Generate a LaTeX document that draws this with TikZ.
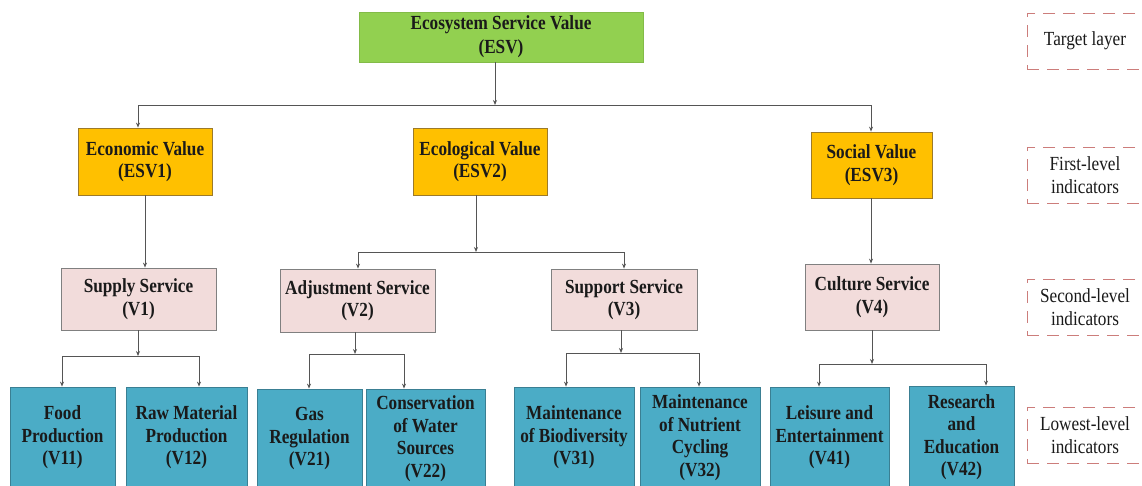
\documentclass[tikz,border=0pt]{standalone}
\usepackage{fontspec}
\setmainfont{Liberation Serif}[FakeStretch=0.86]
\usetikzlibrary{arrows.meta}
\definecolor{esvgreen}{HTML}{92D050}
\definecolor{orangef}{HTML}{FFC000}
\definecolor{orangeb}{HTML}{9C7A2A}
\definecolor{pinkf}{HTML}{F2DCDB}
\definecolor{pinkb}{HTML}{808080}
\definecolor{tealf}{HTML}{4BACC6}
\definecolor{tealb}{HTML}{3A7F93}
\definecolor{linegray}{HTML}{555555}
\definecolor{dashred}{HTML}{CC7D7B}
\definecolor{textdark}{HTML}{1A1A1A}
\tikzset{
  conn/.style={draw=linegray, line width=0.9pt},
  arr/.style={conn, -{Stealth[length=5pt,width=4pt]}},
  box/.style={draw, line width=0.8pt, align=center, inner sep=0pt, text=textdark,
    font=\fontsize{20}{22.5}\selectfont\bfseries},
  topbox/.style={box, fill=esvgreen, draw=esvgreen!90!black},
  firstbox/.style={box, fill=orangef, draw=orangeb},
  secondbox/.style={box, fill=pinkf, draw=pinkb},
  lowbox/.style={box, fill=tealf, draw=tealb},
  layerbox/.style={draw=dashred, dash pattern=on 12pt off 8pt, line width=0.8pt,
    align=center, inner sep=0pt, text=textdark, minimum width=116pt, minimum height=56pt,
    font=\fontsize{20}{23}\selectfont}
}
\begin{document}
\begin{tikzpicture}[x=1pt,y=-1pt]
\useasboundingbox (0,0) rectangle (1142,485);
\clip (0,0) rectangle (1142,485);
\fill[white] (0,0) rectangle (1142,485);

% top
\node[topbox, minimum width=284pt, minimum height=50pt, font=\fontsize{20}{24}\selectfont\bfseries] (esv) at (501,37) {Ecosystem Service Value\\(ESV)};

% first level
\node[firstbox, minimum width=134pt, minimum height=67pt] (esv1) at (145,161.5) {Economic Value\\(ESV1)};
\node[firstbox, minimum width=134pt, minimum height=67pt] (esv2) at (480,161.5) {Ecological Value\\(ESV2)};
\node[firstbox, minimum width=121pt, minimum height=66pt] (esv3) at (871.5,165) {Social Value\\(ESV3)};

% second level
\node[secondbox, minimum width=155pt, minimum height=62pt] (v1) at (138.5,299) {Supply Service\\(V1)};
\node[secondbox, minimum width=155pt, minimum height=63pt] (v2) at (357.5,300.5) {Adjustment Service\\(V2)};
\node[secondbox, minimum width=146pt, minimum height=61pt] (v3) at (624,299.5) {Support Service\\(V3)};
\node[secondbox, minimum width=134pt, minimum height=66pt] (v4) at (872,297) {Culture Service\\(V4)};

% lowest level
\node[lowbox, minimum width=105pt, minimum height=101pt] (v11) at (62.5,437.5) {Food\\Production\\(V11)};
\node[lowbox, minimum width=121pt, minimum height=101pt] (v12) at (186.5,437.5) {Raw Material\\Production\\(V12)};
\node[lowbox, minimum width=105pt, minimum height=99pt] (v21) at (309.5,438.5) {Gas\\Regulation\\(V21)};
\node[lowbox, minimum width=119pt, minimum height=99pt] (v22) at (425.5,438.5) {Conservation\\of Water\\Sources\\(V22)};
\node[lowbox, minimum width=120pt, minimum height=101pt] (v31) at (574,437.5) {Maintenance\\of Biodiversity\\(V31)};
\node[lowbox, minimum width=120pt, minimum height=101pt] (v32) at (700,437.5) {Maintenance\\of Nutrient\\Cycling\\(V32)};
\node[lowbox, minimum width=119pt, minimum height=101pt] (v41) at (829.5,437.5) {Leisure and\\Entertainment\\(V41)};
\node[lowbox, minimum width=105pt, minimum height=102pt] (v42) at (961.5,437) {Research\\and\\Education\\(V42)};

% layer labels
\node[layerbox] (l0) at (1085,41) {Target layer};
\node[layerbox] (l1) at (1085,175) {First-level\\indicators};
\node[layerbox] (l2) at (1085,307) {Second-level\\indicators};
\node[layerbox] (l3) at (1085,435) {Lowest-level\\indicators};

% junctions
\coordinate (j0) at (495,105);
\coordinate (j1) at (476,252);
\coordinate (j11) at (138,356);
\coordinate (j2) at (355,354);
\coordinate (j3) at (621,353);
\coordinate (j4) at (872,364);

% ESV -> first level
\draw[arr] (esv.south -| j0) -- (j0);
\draw[conn] (138,105) -- (871,105);
\draw[arr] (138,105) -- (esv1.north -| 138,0);
\draw[arr] (871,105) -- (esv3.north -| 871,0);

% first -> second
\draw[arr] (esv1.south -| 145,0) -- (v1.north -| 145,0);
\draw[arr] (esv2.south -| j1) -- (j1);
\draw[conn] (358,252) -- (624,252);
\draw[arr] (358,252) -- (v2.north -| 358,0);
\draw[arr] (624,252) -- (v3.north -| 624,0);
\draw[arr] (esv3.south -| 871,0) -- (v4.north -| 871,0);

% second -> lowest
\draw[arr] (v1.south -| j11) -- (j11);
\draw[conn] (62,356) -- (199,356);
\draw[arr] (62,356) -- (v11.north -| 62,0);
\draw[arr] (199,356) -- (v12.north -| 199,0);

\draw[arr] (v2.south -| j2) -- (j2);
\draw[conn] (309,354) -- (404,354);
\draw[arr] (309,354) -- (v21.north -| 309,0);
\draw[arr] (404,354) -- (v22.north -| 404,0);

\draw[arr] (v3.south -| j3) -- (j3);
\draw[conn] (566,353) -- (699,353);
\draw[arr] (566,353) -- (v31.north -| 566,0);
\draw[arr] (699,353) -- (v32.north -| 699,0);

\draw[arr] (v4.south -| j4) -- (j4);
\draw[conn] (819,364) -- (986,364);
\draw[arr] (819,364) -- (v41.north -| 819,0);
\draw[arr] (986,364) -- (v42.north -| 986,0);
\end{tikzpicture}
\end{document}
